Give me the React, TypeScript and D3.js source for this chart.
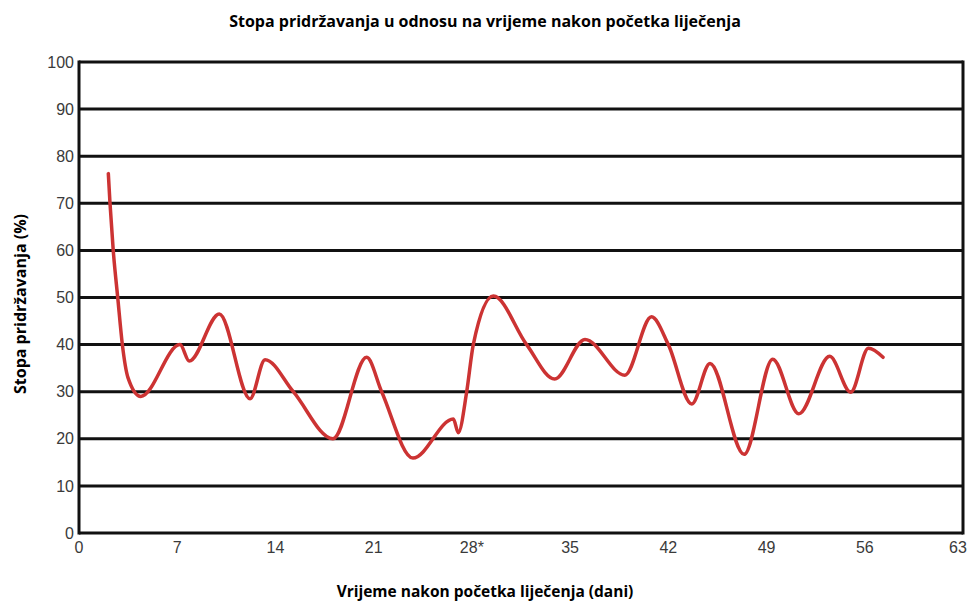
import React from "react";
import * as d3 from "d3";

const title = "Stopa pridržavanja u odnosu na vrijeme nakon početka liječenja";
const xTitle = "Vrijeme nakon početka liječenja (dani)";
const yTitle = "Stopa pridržavanja (%)";

const xTicks = [0, 7, 14, 21, 28, 35, 42, 49, 56, 63];
const xTickLabels = ["0", "7", "14", "21", "28*", "35", "42", "49", "56", "63"];
const yTicks = [0, 10, 20, 30, 40, 50, 60, 70, 80, 90, 100];

const days = [2.09, 2.21, 2.44, 2.76, 3.09, 3.49, 4.4, 7.2, 7.86, 10.0, 12.19, 13.26, 15.27, 18.1, 20.5, 21.57, 23.8, 26.68, 27.03, 27.63, 28.1, 29.53, 31.9, 33.9, 36.06, 38.9, 40.8, 42.0, 43.67, 44.97, 47.4, 49.44, 51.3, 53.5, 55.0, 56.26, 57.3];
const adherence = [76.3, 70, 60, 50, 40, 33, 29, 40, 36.5, 46.5, 28.5, 36.8, 30, 20, 37.3, 30, 15.9, 24.2, 21.3, 30, 40, 50.3, 40, 32.7, 41.1, 33.5, 45.9, 40, 27.4, 36.0, 16.7, 36.9, 25.3, 37.5, 29.9, 39.2, 37.3];

const W = 970;
const H = 605;
const left = 79;
const right = 963;
const top = 62;
const bottom = 533;

export default function App() {
  const x = d3.scaleLinear().domain([0, 63]).range([left, right]);
  const y = d3.scaleLinear().domain([0, 100]).range([bottom, top]);
  const pts = days.map((d, i) => [d, adherence[i]] as [number, number]);
  const line = d3
    .line<[number, number]>()
    .x((d) => x(d[0]))
    .y((d) => y(d[1]))
    .curve(d3.curveMonotoneX);

  const tickFont = "'Liberation Sans', Arial, sans-serif";
  const titleFont = "'Open Sans', sans-serif";

  return (
    <svg
      width={W}
      height={H}
      style={{ position: "absolute", left: 0, top: 0, background: "#fff" }}
    >
      <rect x={0} y={0} width={W} height={H} fill="#fff" />
      <text
        x={485}
        y={27}
        textAnchor="middle"
        fontFamily={titleFont}
        fontWeight={700}
        fontSize={16}
        fill="#000"
      >
        {title}
      </text>
      {yTicks.map((t) => (
        <line
          key={"g" + t}
          x1={x(0)}
          x2={x(63)}
          y1={y(t)}
          y2={y(t)}
          stroke="#111"
          strokeWidth={3}
        />
      ))}
      <line x1={x(0)} x2={x(0)} y1={y(0) + 1.5} y2={y(100) - 1.5} stroke="#111" strokeWidth={3} />
      <line x1={x(63)} x2={x(63)} y1={y(0) + 1.5} y2={y(100) - 1.5} stroke="#111" strokeWidth={3} />
      {yTicks.map((t) => (
        <text
          key={"y" + t}
          x={left - 5}
          y={y(t)}
          dy="0.35em"
          textAnchor="end"
          fontFamily={tickFont}
          fontSize={16}
          fill="#3a3a3a"
        >
          {t}
        </text>
      ))}
      {xTicks.map((t, i) => (
        <text
          key={"x" + t}
          x={Math.min(x(t), W - 12)}
          y={553}
          textAnchor="middle"
          fontFamily={tickFont}
          fontSize={16}
          fill="#3a3a3a"
        >
          {xTickLabels[i]}
        </text>
      ))}
      <path
        d={line(pts) || ""}
        fill="none"
        stroke="#cc3333"
        strokeWidth={3.5}
        strokeLinejoin="round"
        strokeLinecap="round"
      />
      <text
        x={485}
        y={597}
        textAnchor="middle"
        fontFamily={titleFont}
        fontWeight={700}
        fontSize={15.5}
        fill="#000"
      >
        {xTitle}
      </text>
      <text
        transform={`translate(26,304) rotate(-90)`}
        textAnchor="middle"
        fontFamily={titleFont}
        fontWeight={700}
        fontSize={16}
        fill="#000"
      >
        {yTitle}
      </text>
    </svg>
  );
}
